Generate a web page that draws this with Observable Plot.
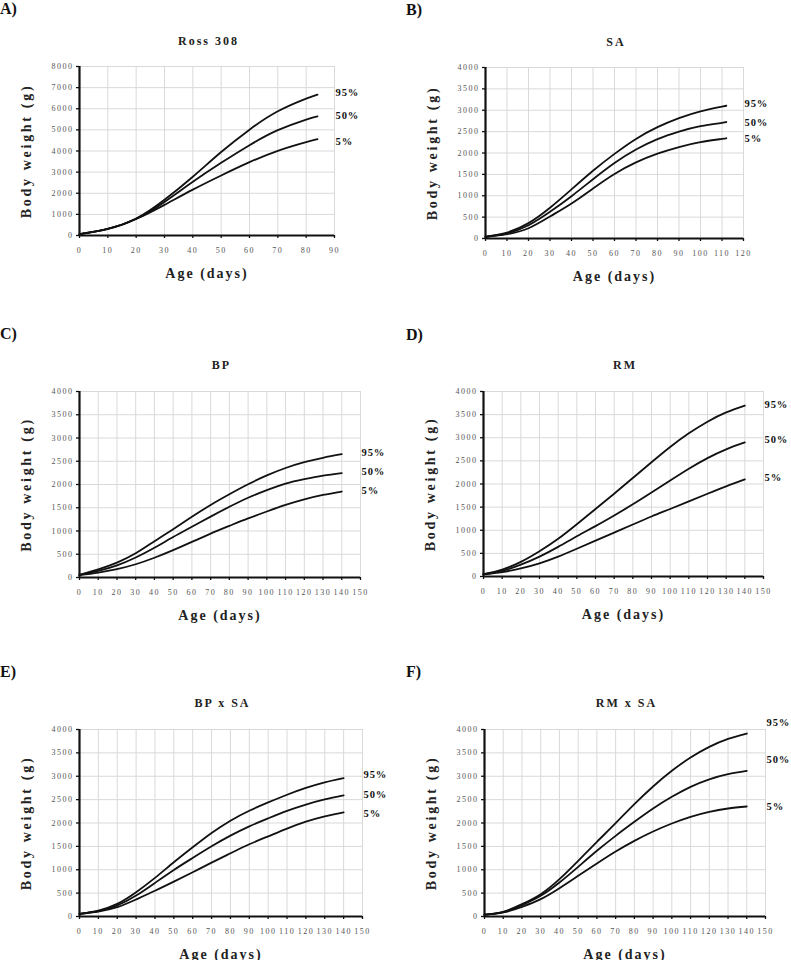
<!DOCTYPE html>
<html>
<head>
<meta charset="utf-8">
<script src="https://cdn.jsdelivr.net/npm/d3@7"></script>
<script src="https://cdn.jsdelivr.net/npm/@observablehq/plot@0.6"></script>
<style>
  body { margin: 0; background: #fff; }
  #root { position: relative; width: 791px; height: 960px; overflow: hidden; background: #fff;
          font-family: "Liberation Serif", "Times New Roman", serif; }
  .panel { position: absolute; }
  .panel svg { overflow: visible; }
  .letter { position: absolute; font-weight: bold; font-size: 16px; line-height: 16px; color: #111; white-space: nowrap; }
  .title { position: absolute; font-weight: bold; font-size: 12px; line-height: 12px; letter-spacing: 2px;
           text-align: center; color: #222; white-space: nowrap; }
  svg g[aria-label="x-axis tick label"] text,
  svg g[aria-label="y-axis tick label"] text { letter-spacing: 1.5px; fill: #555; font-size: 8px; }
  svg g[aria-label="x-axis label"] text { font-size: 14px; font-weight: bold; letter-spacing: 2px; fill: #222; }
  svg g[aria-label="y-axis label"] text { font-size: 14px; font-weight: bold; letter-spacing: 2.7px; fill: #222; }
  svg g[aria-label="text"] text { letter-spacing: 0.9px; }
</style>
</head>
<body>
<div id="root"></div>
<script>
// ---------- Data ----------
const percentiles = ["95%", "50%", "5%"];

// A) Ross 308
const rossAge = [0, 10, 20, 30, 40, 50, 60, 70, 80, 84];
const ross95 = [60, 310, 800, 1690, 2780, 3950, 5010, 5880, 6480, 6670];
const ross50 = [60, 310, 790, 1590, 2540, 3440, 4275, 4985, 5490, 5640];
const ross5  = [60, 310, 780, 1450, 2170, 2840, 3470, 4010, 4420, 4560];

// B) SA
const saAge = [0, 10, 20, 30, 40, 50, 60, 70, 80, 90, 100, 110, 112];
const sa95 = [45, 140, 360, 720, 1150, 1585, 1980, 2330, 2605, 2815, 2975, 3085, 3105];
const sa50 = [40, 120, 310, 625, 990, 1385, 1765, 2080, 2325, 2500, 2628, 2705, 2727];
const sa5  = [35, 100, 240, 515, 820, 1170, 1510, 1780, 1985, 2140, 2255, 2330, 2348];

// C) BP
const bpAge = [0, 10, 20, 30, 40, 50, 60, 70, 80, 90, 100, 110, 120, 130, 140];
const bp95 = [55, 175, 320, 520, 780, 1040, 1305, 1560, 1790, 2005, 2195, 2355, 2480, 2575, 2652];
const bp50 = [55, 140, 260, 430, 640, 870, 1090, 1310, 1520, 1715, 1880, 2020, 2115, 2190, 2244];
const bp5  = [50, 105, 180, 285, 425, 588, 765, 945, 1110, 1270, 1419, 1560, 1680, 1775, 1849];

// D) RM
const rmAge = [0, 10, 20, 30, 40, 50, 60, 70, 80, 90, 100, 110, 120, 130, 140];
const rm95 = [50, 150, 316, 546, 815, 1130, 1460, 1790, 2130, 2470, 2800, 3095, 3347, 3547, 3695];
const rm50 = [50, 120, 255, 430, 640, 870, 1090, 1320, 1560, 1815, 2075, 2330, 2560, 2750, 2898];
const rm5  = [45, 95, 175, 285, 430, 600, 775, 950, 1125, 1298, 1460, 1625, 1790, 1950, 2100];

// E) BP x SA
const bpsaAge = [0, 10, 20, 30, 40, 50, 60, 70, 80, 90, 100, 110, 120, 130, 140];
const bpsa95 = [55, 128, 270, 520, 826, 1160, 1480, 1786, 2050, 2263, 2440, 2605, 2750, 2870, 2961];
const bpsa50 = [55, 114, 235, 448, 719, 996, 1253, 1502, 1730, 1929, 2100, 2260, 2395, 2505, 2591];
const bpsa5  = [55, 107, 199, 365, 550, 745, 947, 1153, 1352, 1545, 1715, 1880, 2028, 2142, 2228];

// F) RM x SA
const rmsaAge = [0, 10, 20, 30, 40, 50, 60, 70, 80, 90, 100, 110, 120, 130, 140];
const rmsa95 = [40, 100, 264, 478, 799, 1191, 1597, 1996, 2403, 2781, 3116, 3401, 3629, 3800, 3914];
const rmsa50 = [40, 93, 242, 442, 727, 1062, 1405, 1725, 2025, 2310, 2560, 2774, 2935, 3045, 3116];
const rmsa5  = [35, 86, 207, 371, 606, 870, 1134, 1390, 1618, 1818, 1989, 2132, 2239, 2310, 2353];

// ---------- Panel layout / config ----------
const panels = [
  {letter: "A)", title: "Ross 308", ages: rossAge, series: [ross95, ross50, ross5], xMax: 90, yMax: 8000, yStep: 1000,
   left: 0, top: 0, w: 395, mL: 79, mR: 61, mT: 66, mB: 85, letterX: 0, letterBase: 14, titleBase: 45, dys: [-2, -1, 2]},
  {letter: "B)", title: "SA", ages: saAge, series: [sa95, sa50, sa5], xMax: 120, yMax: 4000, yStep: 500,
   left: 395, top: 0, w: 396, mL: 90, mR: 48, mT: 67, mB: 82, letterX: 11, letterBase: 15, titleBase: 46, dys: [-2, 1, 1]},
  {letter: "C)", title: "BP", ages: bpAge, series: [bp95, bp50, bp5], xMax: 150, yMax: 4000, yStep: 500,
   left: 0, top: 320, w: 395, mL: 79, mR: 35, mT: 71, mB: 63, letterX: 0, letterBase: 19, titleBase: 49, dys: [-2, -2, -1]},
  {letter: "D)", title: "RM", ages: rmAge, series: [rm95, rm50, rm5], xMax: 150, yMax: 4000, yStep: 500,
   left: 395, top: 320, w: 396, mL: 88, mR: 28, mT: 71, mB: 64, letterX: 11, letterBase: 20, titleBase: 49, dys: [-1, -3, -2]},
  {letter: "E)", title: "BP x SA", ages: bpsaAge, series: [bpsa95, bpsa50, bpsa5], xMax: 150, yMax: 4000, yStep: 500,
   left: 0, top: 640, w: 395, mL: 79, mR: 33, mT: 89, mB: 44, letterX: 0, letterBase: 37, titleBase: 67, dys: [-3, -1, 1]},
  {letter: "F)", title: "RM x SA", ages: rmsaAge, series: [rmsa95, rmsa50, rmsa5], xMax: 150, yMax: 4000, yStep: 500,
   left: 395, top: 640, w: 396, mL: 89, mR: 26, mT: 89, mB: 44, letterX: 11, letterBase: 37, titleBase: 67, dys: [-11, -11, 0]}
];

const root = document.getElementById("root");
const H = 320;

for (const p of panels) {
  const L = document.createElement("div");
  L.className = "letter";
  L.textContent = p.letter;
  L.style.left = (p.left + p.letterX) + "px";
  L.style.top = (p.top + p.letterBase - 0.8375 * 16) + "px";
  root.appendChild(L);

  const T = document.createElement("div");
  T.className = "title";
  T.textContent = p.title;
  T.style.left = (p.left + p.mL + 2) + "px";
  T.style.width = (p.w - p.mL - p.mR) + "px";
  T.style.top = (p.top + p.titleBase - 0.8375 * 12) + "px";
  root.appendChild(T);

  const rows = [];
  p.series.forEach((arr, k) => arr.forEach((v, i) => rows.push({age: p.ages[i], w: v, s: percentiles[k]})));
  const ends = p.series.map((arr, k) => ({age: p.xMax, w: arr[arr.length - 1], s: percentiles[k], dy: p.dys[k]}));

  const xTicks = d3.range(0, p.xMax + 1, 10);
  const yTicks = d3.range(0, p.yMax + 1, p.yStep);

  const chart = Plot.plot({
    width: p.w,
    height: H,
    marginLeft: p.mL,
    marginRight: p.mR,
    marginTop: p.mT,
    marginBottom: p.mB,
    style: {fontFamily: "'Liberation Serif', 'Times New Roman', serif", background: "transparent", color: "#111"},
    x: {domain: [0, p.xMax]},
    y: {domain: [0, p.yMax]},
    marks: [
      Plot.gridX(xTicks, {stroke: "#d9d9d9", strokeOpacity: 1, strokeWidth: 1}),
      Plot.gridY(yTicks, {stroke: "#d9d9d9", strokeOpacity: 1, strokeWidth: 1}),
      Plot.axisX({ticks: xTicks, tickFormat: "d", tickSize: 3, tickPadding: 9, stroke: "#111", strokeWidth: 1.3,
                  label: "Age (days)", labelAnchor: "center", labelArrow: "none", labelOffset: 42}),
      Plot.axisY({ticks: yTicks, tickFormat: "d", tickSize: 3, tickPadding: 3, stroke: "#111", strokeWidth: 1.3,
                  label: "Body weight (g)", labelAnchor: "center", labelArrow: "none", labelOffset: 58}),
      Plot.ruleX([0], {stroke: "#111", strokeWidth: 2.2}),
      Plot.ruleY([0], {stroke: "#111", strokeWidth: 2.2}),
      Plot.line(rows, {x: "age", y: "w", z: "s", curve: "natural", stroke: "#111", strokeWidth: 1.8}),
      Plot.text(ends, {x: "age", y: "w", text: "s", dx: 1, textAnchor: "start", fontWeight: "bold", fontSize: 10.5, fill: "#111"})
    ]
  });
  const labelTexts = chart.querySelectorAll('g[aria-label="text"] text');
  labelTexts.forEach((t, i) => {
    const tr = t.getAttribute("transform") || "";
    t.setAttribute("transform", tr + ` translate(0,${ends[i].dy})`);
  });

  const wrap = document.createElement("div");
  wrap.className = "panel";
  wrap.style.left = p.left + "px";
  wrap.style.top = p.top + "px";
  wrap.appendChild(chart);
  root.appendChild(wrap);
}
</script>
</body>
</html>
